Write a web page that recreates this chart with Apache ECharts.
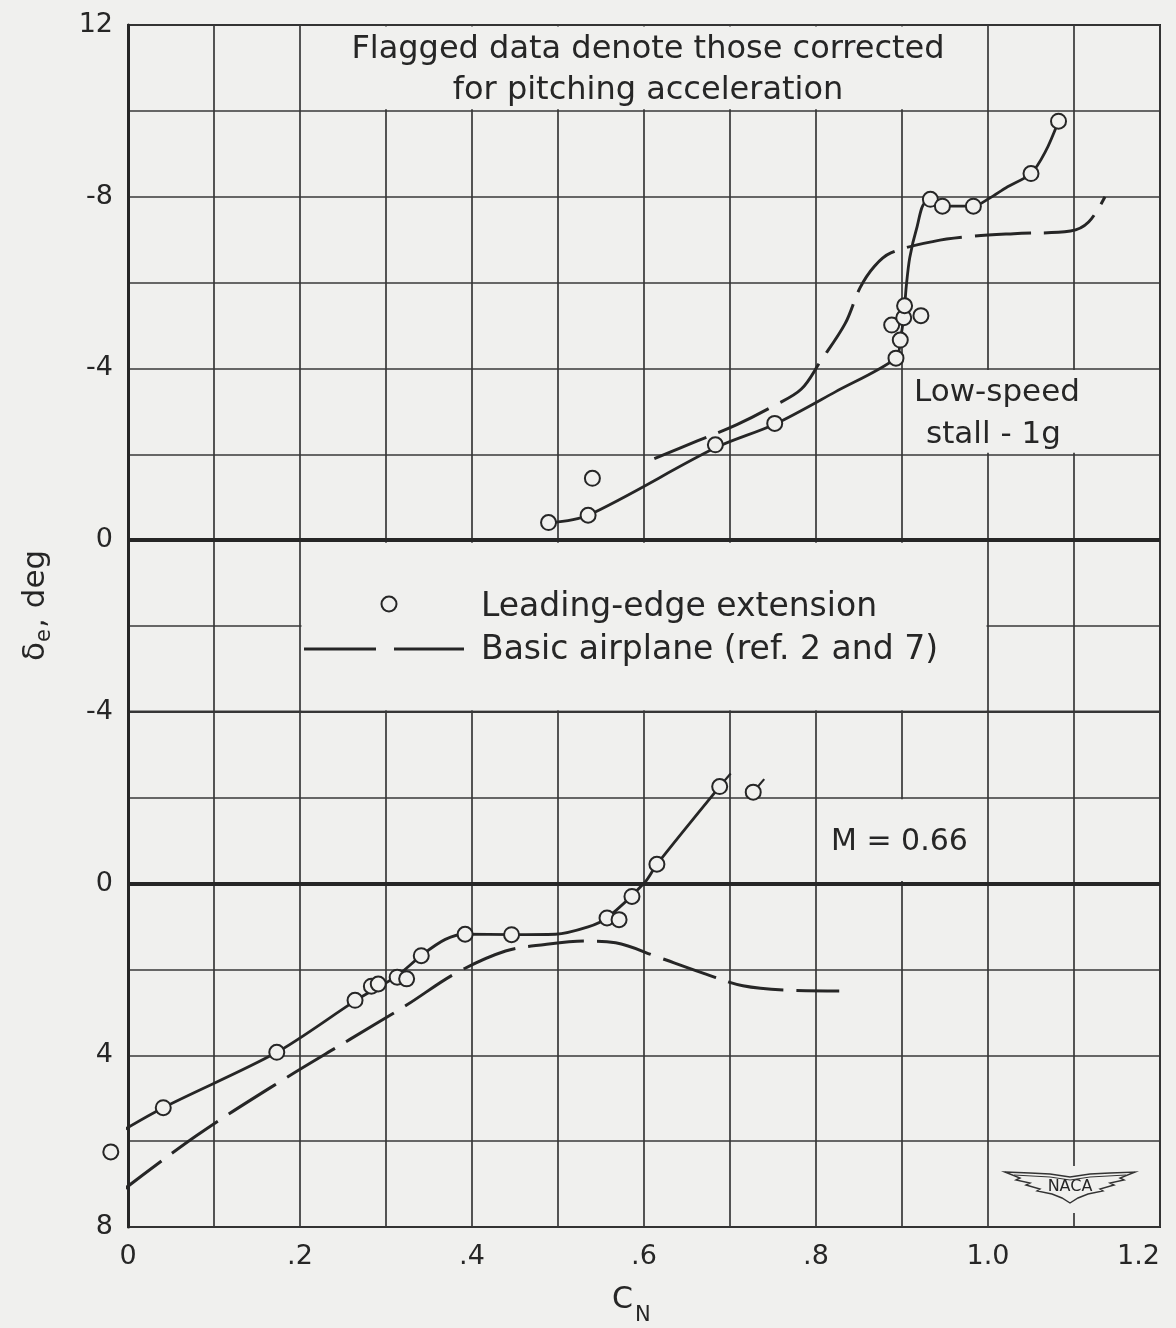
<!DOCTYPE html>
<html><head><meta charset="utf-8">
<script src="https://cdn.jsdelivr.net/npm/echarts@6/dist/echarts.min.js"></script>
<style>html,body{margin:0;padding:0;background:#f0f0ee}#c{width:1176px;height:1328px}</style>
</head><body><div id="c"></div>
<script>
// ---------- data (C_N, elevator angle deg) ----------
const cnTickLabels = ['0', '.2', '.4', '.6', '.8', '1.0', '1.2'];
const upperTickValues = [-12, -8, -4, 0];
const upperTickText = ['12', '-8', '-4', '0'];
const lowerTickValues = [-4, 0, 4, 8];
const lowerTickText = ['-4', '0', '4', '8'];

// Low-speed stall - 1g (upper panel)
const leUpperPts = [[0.489,-0.41],[0.535,-0.58],[0.540,-1.44],[0.683,-2.22],[0.752,-2.72],[0.893,-4.24],[0.898,-4.66],[0.888,-5.01],[0.902,-5.18],[0.903,-5.46],[0.922,-5.23],[0.933,-7.94],[0.947,-7.78],[0.983,-7.78],[1.050,-8.54],[1.082,-9.76]];
const leUpperCurve = [[0.49,-0.40],[0.535,-0.58],[0.683,-2.15],[0.752,-2.70],[0.823,-3.46],[0.893,-4.24],[0.898,-4.66],[0.902,-5.20],[0.905,-5.92],[0.909,-6.58],[0.917,-7.26],[0.928,-7.87],[0.947,-7.78],[0.983,-7.78],[1.002,-7.97],[1.021,-8.21],[1.050,-8.54],[1.067,-9.06],[1.082,-9.76]];
const baseUpperCurve = [[0.612,-1.90],[0.662,-2.31],[0.708,-2.69],[0.752,-3.14],[0.783,-3.52],[0.805,-4.16],[0.834,-5.05],[0.851,-5.87],[0.868,-6.38],[0.887,-6.69],[0.937,-6.96],[0.983,-7.08],[1.030,-7.14],[1.096,-7.20],[1.117,-7.41],[1.136,-8.00]];

// M = 0.66 (lower panel)
const leLowerPts = [[-0.020,6.25],[0.041,5.22],[0.173,3.93],[0.264,2.72],[0.283,2.39],[0.291,2.34],[0.313,2.18],[0.324,2.22],[0.341,1.68],[0.392,1.18],[0.446,1.19],[0.557,0.80],[0.571,0.84],[0.586,0.30],[0.615,-0.45],[0.688,-2.26],[0.727,-2.13]];
const leLowerFlagged = [15, 16]; // indices of points corrected for pitching acceleration
const leLowerCurve = [[-0.023,5.95],[0.041,5.22],[0.173,3.93],[0.265,2.72],[0.312,2.16],[0.342,1.66],[0.369,1.30],[0.392,1.18],[0.446,1.19],[0.497,1.18],[0.535,1.01],[0.557,0.80],[0.601,-0.03],[0.615,-0.45],[0.688,-2.26]];
const baseLowerCurve = [[-0.013,7.25],[0.079,5.88],[0.177,4.61],[0.258,3.63],[0.324,2.83],[0.381,2.09],[0.439,1.57],[0.485,1.42],[0.532,1.34],[0.567,1.38],[0.617,1.72],[0.672,2.11],[0.715,2.38],[0.765,2.48],[0.827,2.50]];

// ---------- layout ----------
const BG = '#f0f0ee', INK = '#262626', GRIDC = '#383838';
const FONT = '"DejaVu Sans", sans-serif';
const L = 128, R = 1160, T = 25, B = 1227;
const unit = (B - T) / 28;
const split = T + 16 * unit;
const px = c => L + c * (R - L) / 1.2;
const pyU = d => T + (d + 12) * unit;
const pyL = d => split + (d + 4) * unit;

const chart = echarts.init(document.getElementById('c'), null, {renderer: 'canvas'});

function xAxisCfg(idx, labels) {
  return {
    type: 'value', gridIndex: idx, min: 0, max: 1.2, interval: 0.1,
    axisLine: {show: false}, axisTick: {show: false},
    splitLine: {show: true, lineStyle: {color: GRIDC, width: 1.7}},
    axisLabel: labels ? {
      show: true, margin: 16, fontFamily: FONT, fontSize: 27, color: INK,
      showMinLabel: true, showMaxLabel: true, alignMaxLabel: 'right',
      formatter: v => { const k = Math.round(v * 10); return k % 2 === 0 ? cnTickLabels[k / 2] : ''; }
    } : {show: false}
  };
}
function yAxisCfg(idx, min, max, vals, texts) {
  return {
    type: 'value', gridIndex: idx, min: min, max: max, interval: 2, inverse: true,
    axisLine: {show: true, lineStyle: {color: INK, width: 3}}, axisTick: {show: false},
    splitLine: {show: true, lineStyle: {color: GRIDC, width: 1.7}},
    axisLabel: {
      show: true, margin: 15, fontFamily: FONT, fontSize: 27, color: INK,
      showMinLabel: true, showMaxLabel: true,
      formatter: v => { const i = vals.indexOf(Math.round(v)); return i >= 0 ? texts[i] : ''; }
    }
  };
}
const zeroLine = {
  silent: true, symbol: ['none', 'none'], label: {show: false},
  lineStyle: {color: INK, width: 4, type: 'solid', opacity: 1}, data: [{yAxis: 0}]
};
const solid = {color: INK, width: 2.8, type: 'solid'};
const dashed = {color: INK, width: 3, type: [56, 13]};
const circleStyle = {color: BG, borderColor: INK, borderWidth: 2, opacity: 1};

function cover(x1, y1, x2, y2) {
  return {type: 'rect', z: 1, silent: true, shape: {x: x1, y: y1, width: x2 - x1, height: y2 - y1}, style: {fill: BG}};
}
function txt(x, y, s, size, align) {
  return {type: 'text', z: 10, silent: true, x: x, y: y,
    style: {text: s, fontFamily: FONT, fontSize: size, fill: INK, align: align || 'left', verticalAlign: 'middle'}};
}

const naca = {cx: px(1.1) - 4, cy: 1186};
const wing = [[-65,-14],[-40,-13],[-20,-12],[0,-9],[20,-12],[40,-13],[65,-14],[50,-8],[54,-6],[40,-3],[44,-1],[30,3],[33,5],[18,8],[8,12],[0,17],[-8,12],[-18,8],[-33,5],[-30,3],[-44,-1],[-40,-3],[-54,-6],[-50,-8]].map(p => [naca.cx + p[0], naca.cy + p[1]]);

const gridBase = {left: L, width: R - L, show: true, borderColor: INK, borderWidth: 2, backgroundColor: 'transparent', containLabel: false, outerBoundsMode: 'none'};

const option = {
  backgroundColor: BG,
  animation: false,
  grid: [
    Object.assign({}, gridBase, {top: T, height: 16 * unit}),
    Object.assign({}, gridBase, {top: split, height: 12 * unit})
  ],
  xAxis: [xAxisCfg(0, false), xAxisCfg(1, true)],
  yAxis: [yAxisCfg(0, -12, 4, upperTickValues, upperTickText), yAxisCfg(1, -4, 8, lowerTickValues, lowerTickText)],
  series: [
    {type: 'line', name: 'Basic airplane (ref. 2 and 7)', xAxisIndex: 0, yAxisIndex: 0, data: baseUpperCurve, smooth: 0.35, symbol: 'none', clip: false, lineStyle: dashed, z: 3},
    {type: 'line', name: 'Leading-edge extension', xAxisIndex: 0, yAxisIndex: 0, data: leUpperCurve, smooth: 0.3, symbol: 'none', clip: false, lineStyle: solid, z: 3, markLine: zeroLine},
    {type: 'scatter', name: 'Leading-edge extension', xAxisIndex: 0, yAxisIndex: 0, data: leUpperPts, symbol: 'circle', symbolSize: 15, itemStyle: circleStyle, clip: false, z: 4},
    {type: 'line', name: 'Basic airplane (ref. 2 and 7)', xAxisIndex: 1, yAxisIndex: 1, data: baseLowerCurve, smooth: 0.35, symbol: 'none', clip: false, lineStyle: dashed, z: 3},
    {type: 'line', name: 'Leading-edge extension', xAxisIndex: 1, yAxisIndex: 1, data: leLowerCurve, smooth: 0.3, symbol: 'none', clip: false, lineStyle: solid, z: 3, markLine: zeroLine},
    {type: 'scatter', name: 'Leading-edge extension', xAxisIndex: 1, yAxisIndex: 1, data: leLowerPts, symbol: 'circle', symbolSize: 15, itemStyle: circleStyle, clip: false, z: 4},
    {type: 'custom', name: 'flags', xAxisIndex: 1, yAxisIndex: 1, clip: false, z: 4,
      data: leLowerFlagged.map(i => leLowerPts[i]),
      renderItem: (params, api) => {
        const p = api.coord([api.value(0), api.value(1)]);
        return {type: 'line', shape: {x1: p[0] + 5, y1: p[1] - 6, x2: p[0] + 11, y2: p[1] - 13}, style: {stroke: INK, lineWidth: 2.2}};
      }}
  ],
  graphic: [
    // blank panels where the original grid was left open for lettering
    cover(px(0.2) + 1.5, T + 1.5, px(1.0) - 1.5, pyU(-10) - 1.5),
    cover(px(0.2) + 1.5, pyU(0) + 2.5, px(1.0) - 1.5, split - 1.5),
    cover(px(0.9) + 1.5, pyU(-4) + 1.5, px(1.2) - 1.5, pyU(-2) - 1.5),
    cover(px(0.8) + 1.5, pyL(-2) + 1.5, px(1.0) - 1.5, pyL(0) - 2.5),
    cover(naca.cx - 70, 1166, naca.cx + 70, 1213),
    // title
    txt(648, 50, 'Flagged data denote those corrected', 32, 'center'),
    txt(648, 91, 'for pitching acceleration', 32, 'center'),
    // legend
    {type: 'circle', z: 10, silent: true, shape: {cx: 389, cy: 604, r: 7.5}, style: {fill: BG, stroke: INK, lineWidth: 2}},
    txt(481, 607, 'Leading-edge extension', 33),
    {type: 'line', z: 10, silent: true, shape: {x1: 304, y1: 649, x2: 464, y2: 649}, style: {stroke: INK, lineWidth: 3, lineDash: [72, 18]}},
    txt(481, 650, 'Basic airplane (ref. 2 and 7)', 33),
    // panel labels
    txt(914, 393, 'Low-speed', 31),
    txt(926, 435, 'stall - 1g', 31),
    txt(831, 842, 'M = 0.66', 30),
    // axis titles
    {type: 'group', x: 36, y: 605, rotation: Math.PI / 2, z: 10, silent: true, children: [
      {type: 'text', x: -56, y: 0, style: {text: 'δ', fontFamily: FONT, fontSize: 31, fill: INK, verticalAlign: 'middle'}},
      {type: 'text', x: -37, y: 9, style: {text: 'e', fontFamily: FONT, fontSize: 21, fill: INK, verticalAlign: 'middle'}},
      {type: 'text', x: -23, y: 0, style: {text: ', deg', fontFamily: FONT, fontSize: 31, fill: INK, verticalAlign: 'middle'}}
    ]},
    txt(612, 1300, 'C', 30),
    txt(635, 1316, 'N', 21),
    // NACA wings
    {type: 'polygon', z: 10, silent: true, shape: {points: wing}, style: {fill: 'none', stroke: '#333', lineWidth: 1.4}},
    {type: 'polyline', z: 10, silent: true, shape: {points: [[naca.cx - 56, naca.cy - 11], [naca.cx - 20, naca.cy - 9], [naca.cx, naca.cy - 6], [naca.cx + 20, naca.cy - 9], [naca.cx + 56, naca.cy - 11]]}, style: {fill: 'none', stroke: '#333', lineWidth: 1}},
    txt(naca.cx, naca.cy + 1, 'NACA', 16, 'center')
  ]
};
chart.setOption(option);
</script></body></html>
